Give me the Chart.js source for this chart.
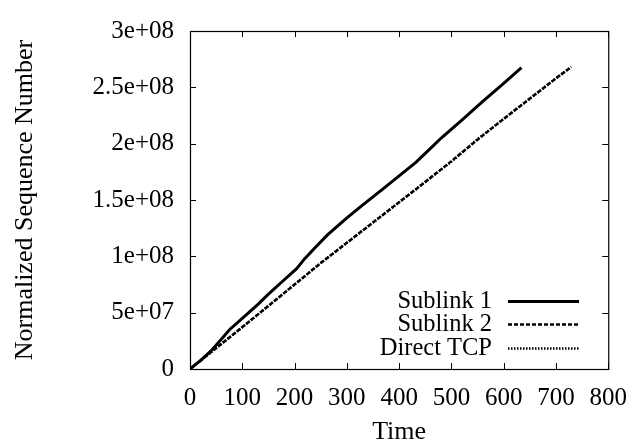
<!DOCTYPE html>
<html>
<head>
<meta charset="utf-8">
<script src="https://cdn.jsdelivr.net/npm/chart.js@4/dist/chart.umd.min.js"></script>
<style>
  html, body { margin: 0; padding: 0; background: #fff; }
  #wrap { width: 641px; height: 445px; }
</style>
</head>
<body>
<div id="wrap"><canvas id="seq-chart"></canvas></div>
<script>
// series data
var sub1Time = [0, 20, 40, 57, 76, 100, 130, 149, 175, 204, 219, 240, 263, 299, 330, 368, 400, 432, 457, 480, 520, 560, 600, 634];
var sub1Seq = [0, 0.075e8, 0.16e8, 0.249e8, 0.351e8, 0.45e8, 0.574e8, 0.66e8, 0.77e8, 0.891e8, 0.977e8, 1.08e8, 1.19e8, 1.337e8,
    1.455e8, 1.594e8, 1.714e8, 1.834e8, 1.945e8, 2.048e8, 2.21e8, 2.375e8, 2.535e8, 2.674e8];

var sub2Time = [0, 50, 100, 150, 200, 250, 300, 350, 400, 450, 500, 550, 600, 650, 700, 729];
var sub2Seq = [0, 0.186e8, 0.372e8, 0.56e8, 0.75e8, 0.94e8, 1.12e8, 1.30e8, 1.48e8, 1.66e8, 1.845e8, 2.035e8, 2.22e8, 2.40e8, 2.58e8, 2.68e8];

var tcpTime = [0, 50, 100, 150, 200, 250, 300, 350, 400, 450, 500, 550, 600, 650, 700, 729];
var tcpSeq = [0, 0.185e8, 0.37e8, 0.56e8, 0.75e8, 0.94e8, 1.12e8, 1.30e8, 1.48e8, 1.66e8, 1.84e8, 2.04e8, 2.22e8, 2.40e8, 2.58e8, 2.68e8];

var seriesNames = ['Sublink 1', 'Sublink 2', 'Direct TCP'];

function toPoints(xs, ys) {
    return xs.map(function (x, i) { return { x: x, y: ys[i] }; });
}

// gnuplot style "%g" labels: 5e+07, 1.5e+08
function gLabel(v) {
    if (v === 0) return '0';
    var parts = v.toExponential().split('e');
    var exp = parseInt(parts[1], 10);
    var sign = exp < 0 ? '-' : '+';
    exp = Math.abs(exp);
    return parts[0] + 'e' + sign + (exp < 10 ? '0' + exp : exp);
}

var serif = "'Liberation Serif', 'Times New Roman', serif";

// frame with inward ticks on all four sides
var framePlugin = {
    id: 'frame',
    afterDraw: function (chart) {
        var c = chart.ctx, a = chart.chartArea;
        var sx = chart.scales.x, sy = chart.scales.y;
        var len = 6;
        c.save();
        c.strokeStyle = '#000';
        c.lineWidth = 1;
        c.beginPath();
        sx.ticks.forEach(function (t) {
            var px = Math.round(sx.getPixelForValue(t.value)) + 0.5;
            c.moveTo(px, a.bottom); c.lineTo(px, a.bottom - len);
            c.moveTo(px, a.top); c.lineTo(px, a.top + len);
        });
        sy.ticks.forEach(function (t) {
            var py = Math.round(sy.getPixelForValue(t.value)) + 0.5;
            c.moveTo(a.left, py); c.lineTo(a.left + len, py);
            c.moveTo(a.right, py); c.lineTo(a.right - len, py);
        });
        c.stroke();
        c.lineWidth = 1.2;
        c.strokeRect(a.left + 0.5, a.top + 0.5, a.right - a.left, a.bottom - a.top);
        c.restore();
    }
};

// gnuplot style key: text right aligned, sample to the right
var keyPlugin = {
    id: 'key',
    afterDraw: function (chart) {
        var c = chart.ctx;
        var textRight = 492, x0 = 508, x1 = 579;
        var rows = [301, 324, 348];
        c.save();
        c.font = '24.5px ' + serif;
        c.textAlign = 'right';
        c.textBaseline = 'middle';
        chart.data.datasets.forEach(function (ds, i) {
            c.fillStyle = '#000';
            c.fillText(ds.label, textRight, rows[i] + 1);
            c.strokeStyle = ds.borderColor;
            c.lineWidth = ds.borderWidth;
            c.setLineDash(ds.borderDash || []);
            c.beginPath();
            c.moveTo(x0, rows[i] + 0.5);
            c.lineTo(x1, rows[i] + 0.5);
            c.stroke();
        });
        c.restore();
    }
};

var ctx = document.getElementById('seq-chart');

var myChart = new Chart(ctx, {
    type: 'line',
    data: {
        datasets: [
        {
            label: seriesNames[0],
            data: toPoints(sub1Time, sub1Seq),
            borderColor: '#000',
            borderWidth: 3,
            pointRadius: 0,
            tension: 0
        },
        {
            label: seriesNames[1],
            data: toPoints(sub2Time, sub2Seq),
            borderColor: '#000',
            borderWidth: 2.5,
            borderDash: [4, 2],
            pointRadius: 0,
            tension: 0
        },
        {
            label: seriesNames[2],
            data: toPoints(tcpTime, tcpSeq),
            borderColor: '#000',
            borderWidth: 2.5,
            borderDash: [1.5, 1.5],
            pointRadius: 0,
            tension: 0
        }]
    },
    options: {
        responsive: true,
        maintainAspectRatio: false,
        animation: false,
        layout: { padding: { left: 0, top: 19, right: 31, bottom: 0 } },
        plugins: {
            legend: { display: false },
            tooltip: { enabled: false }
        },
        scales: {
            x: {
                type: 'linear',
                min: 0,
                max: 800,
                ticks: {
                    stepSize: 100,
                    padding: 14,
                    color: '#000',
                    font: { family: serif, size: 25 },
                    maxRotation: 0
                },
                grid: { display: false, drawTicks: false },
                border: { display: false },
                title: {
                    display: true,
                    text: 'Time',
                    color: '#000',
                    font: { family: serif, size: 26, lineHeight: 1 },
                    padding: 0
                },
                afterFit: function (scale) { scale.height = 76; }
            },
            y: {
                type: 'linear',
                min: 0,
                max: 3e8,
                ticks: {
                    stepSize: 5e7,
                    padding: 16,
                    color: '#000',
                    font: { family: serif, size: 25 },
                    callback: function (v) { return gLabel(v); }
                },
                grid: { display: false, drawTicks: false },
                border: { display: false },
                title: {
                    display: true,
                    text: 'Normalized Sequence Number',
                    color: '#000',
                    font: { family: serif, size: 26, lineHeight: 1 },
                    padding: { top: 12, bottom: 0 }
                },
                afterFit: function (scale) { scale.width = 190; }
            }
        }
    },
    plugins: [framePlugin, keyPlugin]
});
</script>
</body>
</html>
